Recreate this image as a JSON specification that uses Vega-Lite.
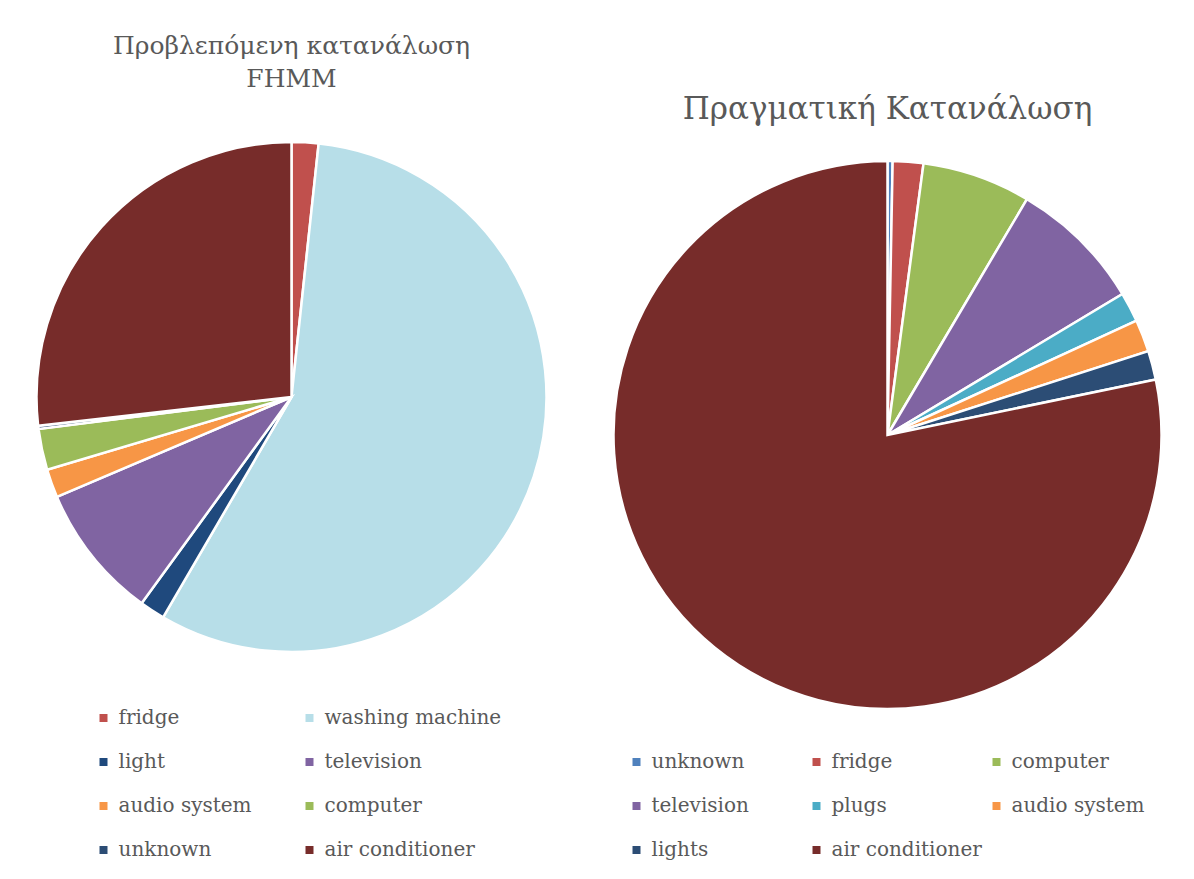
{
  "$schema": "https://vega.github.io/schema/vega-lite/v6.json",
  "background": "white",
  "padding": {"left": 31.5, "top": 34, "right": 0, "bottom": 0},
  "bounds": "flush",
  "spacing": 67,
  "config": {
    "view": {"stroke": null},
    "font": "DejaVu Serif",
    "title": {"color": "#595959", "fontWeight": "normal", "anchor": "middle", "font": "DejaVu Serif"},
    "legend": {
      "title": null,
      "direction": "horizontal",
      "symbolType": "square",
      "symbolSize": 64,
      "symbolStrokeWidth": 0,
      "labelFont": "DejaVu Serif",
      "labelFontSize": 20,
      "labelColor": "#595959",
      "labelOffset": 5,
      "labelLimit": 400,
      "gridAlign": "all",
      "padding": 0,
      "rowPadding": 24
    }
  },
  "datasets": {
    "fhmm": [
      {"i": 1, "appliance": "fridge", "share": 1.7},
      {"i": 2, "appliance": "washing machine", "share": 56.7},
      {"i": 3, "appliance": "light", "share": 1.6},
      {"i": 4, "appliance": "television", "share": 8.6},
      {"i": 5, "appliance": "audio system", "share": 1.8},
      {"i": 6, "appliance": "computer", "share": 2.6},
      {"i": 7, "appliance": "unknown", "share": 0.2},
      {"i": 8, "appliance": "air conditioner", "share": 26.8}
    ],
    "real": [
      {"i": 1, "appliance": "unknown", "share": 0.3},
      {"i": 2, "appliance": "fridge", "share": 1.8},
      {"i": 3, "appliance": "computer", "share": 6.4},
      {"i": 4, "appliance": "television", "share": 7.9},
      {"i": 5, "appliance": "plugs", "share": 1.75},
      {"i": 6, "appliance": "audio system", "share": 1.9},
      {"i": 7, "appliance": "lights", "share": 1.7},
      {"i": 8, "appliance": "air conditioner", "share": 78.25}
    ]
  },
  "hconcat": [
    {
      "data": {"name": "fhmm"},
      "width": 510,
      "height": 510,
      "title": {"text": ["Προβλεπόμενη κατανάλωση", "FHMM"], "fontSize": 25, "lineHeight": 33, "offset": 45},
      "mark": {"type": "arc", "stroke": "white", "strokeWidth": 2.5},
      "encoding": {
        "theta": {"field": "share", "type": "quantitative", "stack": true},
        "order": {"field": "i", "type": "quantitative"},
        "color": {
          "field": "appliance",
          "type": "nominal",
          "scale": {
            "domain": ["fridge", "washing machine", "light", "television", "audio system", "computer", "unknown", "air conditioner"],
            "range": ["#C0504D", "#B7DEE8", "#1F497D", "#8064A2", "#F79646", "#9BBB59", "#2C4D75", "#772C2A"]
          },
          "legend": {"orient": "none", "legendX": 57, "legendY": 566, "columns": 2, "columnPadding": 4}
        }
      }
    },
    {
      "data": {"name": "real"},
      "width": 548,
      "height": 586,
      "title": {"text": "Πραγματική Κατανάλωση", "fontSize": 31, "offset": 16},
      "mark": {"type": "arc", "stroke": "white", "strokeWidth": 2.5},
      "encoding": {
        "theta": {"field": "share", "type": "quantitative", "stack": true},
        "order": {"field": "i", "type": "quantitative"},
        "color": {
          "field": "appliance",
          "type": "nominal",
          "scale": {
            "domain": ["unknown", "fridge", "computer", "television", "plugs", "audio system", "lights", "air conditioner"],
            "range": ["#4F81BD", "#C0504D", "#9BBB59", "#8064A2", "#4BACC6", "#F79646", "#2C4D75", "#772C2A"]
          },
          "legend": {"orient": "none", "legendX": 13, "legendY": 610, "columns": 3, "columnPadding": 4}
        }
      }
    }
  ],
  "resolve": {"scale": {"color": "independent", "theta": "independent"}, "legend": {"color": "independent"}}
}
